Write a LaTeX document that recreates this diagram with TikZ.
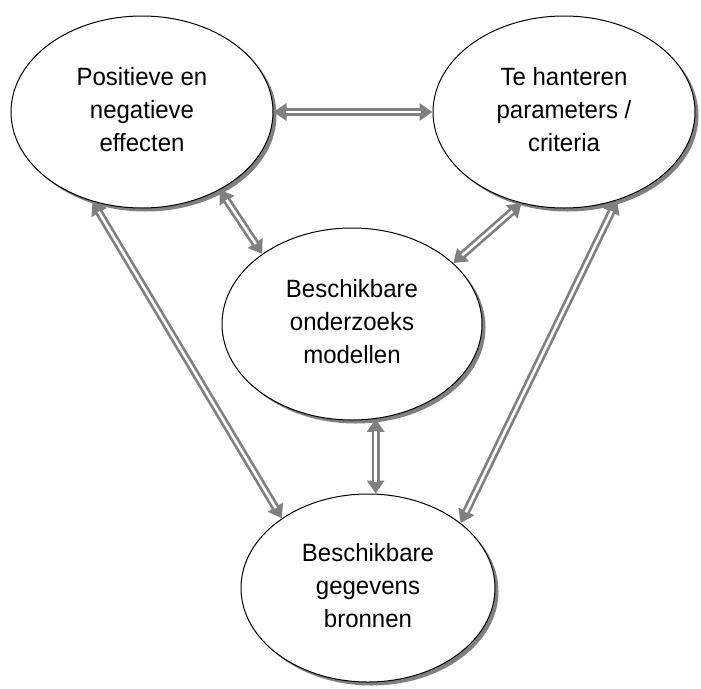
\documentclass[tikz,border=0pt]{standalone}
\usepackage{fontspec}
\setmainfont{Liberation Sans}[FakeStretch=0.96]
\usetikzlibrary{shapes.geometric}
\usetikzlibrary{shadows}
\usetikzlibrary{arrows.meta}

\newcommand{\lifted}[2]{\raisebox{#1}{\begin{tabular}{@{}c@{}}#2\end{tabular}}}

\tikzset{
    bubble/.style={ellipse, draw=black, line width=1pt, fill=white,
        font=\fontsize{25}{33}\selectfont, inner sep=0pt,
        drop shadow={shadow xshift=3.5pt, shadow yshift=-3.5pt, fill=gray, opacity=1}},
    link/.style={draw=gray, line width=8pt,
        {Triangle[length=13pt,width=17pt]}-{Triangle[length=13pt,width=17pt]},
        postaction={draw=white, line width=2.6pt, -, shorten <=12pt, shorten >=12pt}}
}

\begin{document}
\begin{tikzpicture}[x=1pt, y=1pt]
    \useasboundingbox (0,0) rectangle (701,-688); % page size
    \node[bubble, minimum width=262pt, minimum height=192pt] (effecten) at (142,-112)
        {\lifted{6pt}{Positieve en\\negatieve\\effecten}};
    \node[bubble, minimum width=262pt, minimum height=192pt] (criteria) at (564,-112)
        {\lifted{6pt}{Te hanteren\\parameters /\\criteria}};
    \node[bubble, minimum width=260pt, minimum height=192pt] (modellen) at (352,-324)
        {\lifted{8pt}{Beschikbare\\onderzoeks\\modellen}};
    \node[bubble, minimum width=254pt, minimum height=188pt] (bronnen) at (368,-588)
        {\lifted{2pt}{Beschikbare\\gegevens\\bronnen}};
    \foreach \a/\b in {effecten.east/criteria.west, effecten.-45/modellen.142,
                       criteria.-115/modellen.31, effecten.-119/bronnen.141,
                       criteria.-59/bronnen.35} % double arrows
        \draw[link] (\a) -- (\b);
    \draw[link] (modellen.-76) -- (modellen.-76 |- bronnen.north); % straight down
\end{tikzpicture}
\end{document}
